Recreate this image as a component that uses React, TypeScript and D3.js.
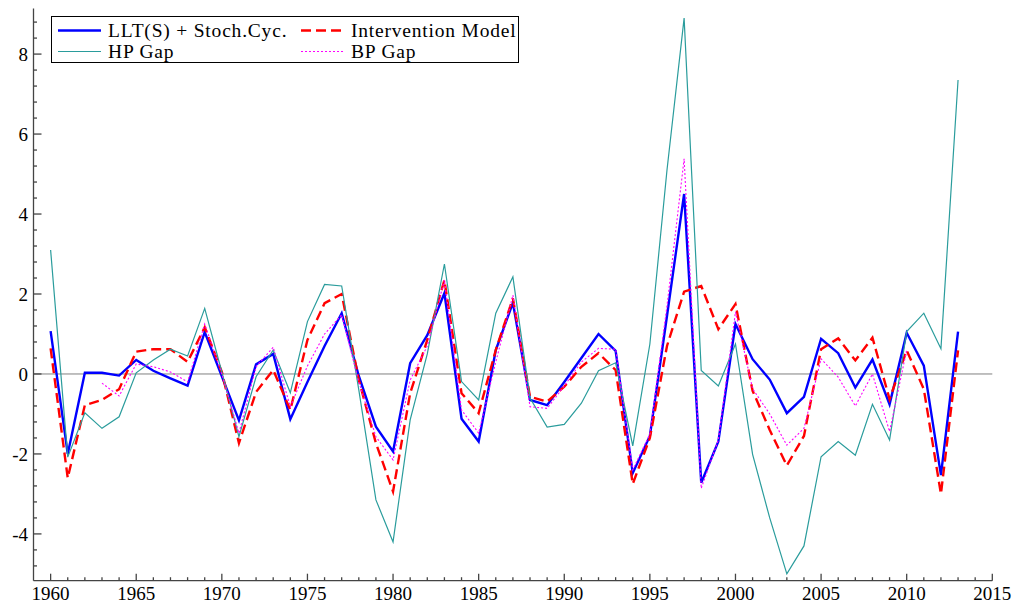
import * as d3 from "d3";
import React, { useRef, useEffect } from "react";

const years = d3.range(1960, 2014);

const lltCycle = [
  1.07, -2.0, 0.03, 0.03, -0.04, 0.35, 0.08, -0.11, -0.29, 1.05,
  -0.06, -1.16, 0.24, 0.5, -1.13, -0.2, 0.7, 1.52, -0.05, -1.32,
  -1.94, 0.27, 0.97, 2.02, -1.12, -1.69, 0.6, 1.78, -0.65, -0.78,
  -0.2, 0.4, 1.0, 0.58, -2.48, -1.55, 1.45, 4.5, -2.72, -1.69,
  1.25, 0.37, -0.14, -0.98, -0.57, 0.88, 0.52, -0.34, 0.36, -0.76,
  1.03, 0.21, -2.53, 1.06,
];

const intervention = [
  0.64, -2.6, -0.78, -0.65, -0.38, 0.56, 0.62, 0.62, 0.3, 1.17,
  0.05, -1.73, -0.45, 0.1, -0.9, 0.85, 1.77, 2.0, -0.15, -1.73,
  -2.94, -0.48, 0.85, 2.35, -0.48, -0.98, 0.6, 1.89, -0.57, -0.69,
  -0.32, 0.18, 0.52, 0.1, -2.75, -1.6, 0.7, 2.06, 2.2, 1.12,
  1.75, -0.42, -1.4, -2.29, -1.55, 0.62, 0.89, 0.34, 0.91, -0.63,
  0.59, -0.38, -3.0, 0.59,
];

const hpGap = [
  3.1, -2.08, -0.97, -1.36, -1.07, 0.03, 0.35, 0.62, 0.45, 1.64,
  0.05, -1.57, -0.07, 0.6, -0.47, 1.31, 2.24, 2.2, -0.4, -3.15,
  -4.2, -1.15, 0.5, 2.75, -0.19, -0.65, 1.52, 2.43, -0.6, -1.33,
  -1.26, -0.73, 0.08, 0.28, -1.8, 0.75, 5.1, 8.9, 0.09, -0.3,
  0.75, -2.01, -3.6, -5.0, -4.3, -2.07, -1.69, -2.03, -0.76, -1.65,
  1.06, 1.52, 0.63, 7.35,
];

// band-pass gap only covers 1963-2010
const bpYears = d3.range(1963, 2011);
const bpGap = [
  -0.23, -0.55, 0.25, 0.18, 0.05, -0.2, 1.25, 0.0, -1.48, 0.18,
  0.67, -0.82, 0.2, 1.0, 1.48, -0.2, -1.57, -2.15, -0.15, 0.7,
  2.35, -0.9, -1.48, 0.3, 1.97, -0.82, -0.86, -0.3, 0.3, 0.64,
  0.62, -2.4, -1.5, 1.7, 5.38, -2.86, -1.65, 1.55, -0.37, -1.0,
  -1.78, -1.36, 0.38, -0.08, -0.8, 0.0, -1.44, 0.6,
];

const xMajorTicks = d3.range(1960, 2016, 5);
const yMajorTicks = [-4, -2, 0, 2, 4, 6, 8];

const series = [
  { name: "LLT(S) + Stoch.Cyc.", x: years, y: lltCycle, color: "#0000ff", width: 2.4, dash: null },
  { name: "Intervention Model", x: years, y: intervention, color: "#ff0000", width: 2.4, dash: "10,5" },
  { name: "HP Gap", x: years, y: hpGap, color: "#2a9c9c", width: 1.2, dash: null },
  { name: "BP Gap", x: bpYears, y: bpGap, color: "#ff00ff", width: 1.1, dash: "2,2" },
];

const width = 1014;
const height = 606;
const font = "'Liberation Serif', 'Times New Roman', serif";
const axisColor = "#444";

function GapChart() {
  const ref = useRef(null);

  useEffect(() => {
    const svg = d3.select(ref.current);
    svg.selectAll("*").remove();

    const xScale = d3.scaleLinear().domain([1959, 2015]).range([33.5, 992.3]);
    const yScale = d3.scaleLinear().domain([-5.17, 9.14]).range([580.7, 8.5]);
    const [x0, x1] = xScale.range();
    const [yb, yt] = yScale.range();

    // zero reference line
    svg
      .append("line")
      .attr("x1", x0)
      .attr("x2", x1)
      .attr("y1", yScale(0))
      .attr("y2", yScale(0))
      .attr("stroke", "#808080")
      .attr("stroke-width", 1);

    const line = d3
      .line()
      .x((d) => xScale(d[0]))
      .y((d) => yScale(d[1]));

    svg
      .selectAll(".series")
      .data(series)
      .join("path")
      .classed("series", true)
      .attr("d", (s) => line(s.x.map((yr, i) => [yr, s.y[i]])))
      .attr("fill", "none")
      .attr("stroke", (s) => s.color)
      .attr("stroke-width", (s) => s.width)
      .attr("stroke-dasharray", (s) => s.dash)
      .attr("stroke-linejoin", "miter");

    // axes, ticks point inward
    const axes = svg.append("g").attr("stroke", axisColor).attr("stroke-width", 1.3);
    axes.append("line").attr("x1", x0).attr("x2", x1).attr("y1", yb).attr("y2", yb);
    axes.append("line").attr("x1", x0).attr("x2", x0).attr("y1", yb).attr("y2", yt);

    const xMinor = d3.range(1960, 2016);
    axes
      .selectAll(".xtick")
      .data(xMinor)
      .join("line")
      .classed("xtick", true)
      .attr("x1", (d) => xScale(d))
      .attr("x2", (d) => xScale(d))
      .attr("y1", yb)
      .attr("y2", (d) => (d % 5 === 0 ? yb - 7 : yb - 3.5));

    const yMinor = d3
      .range(-13, 24)
      .map((k) => +(k * 0.4).toFixed(2))
      .filter((v) => v >= yScale.domain()[0] && v <= yScale.domain()[1]);
    axes
      .selectAll(".ytick")
      .data(yMinor)
      .join("line")
      .classed("ytick", true)
      .attr("x1", x0)
      .attr("x2", (d) => (yMajorTicks.includes(d) ? x0 + 8 : x0 + 3.5))
      .attr("y1", (d) => yScale(d))
      .attr("y2", (d) => yScale(d));

    svg
      .selectAll(".xlabel")
      .data(xMajorTicks)
      .join("text")
      .classed("xlabel", true)
      .attr("x", (d) => xScale(d))
      .attr("y", 600)
      .attr("text-anchor", "middle")
      .style("font-family", font)
      .style("font-size", "19px")
      .attr("fill", "#000")
      .text((d) => d);

    svg
      .selectAll(".ylabel")
      .data(yMajorTicks)
      .join("text")
      .classed("ylabel", true)
      .attr("x", 28)
      .attr("y", (d) => yScale(d))
      .attr("dy", "0.35em")
      .attr("text-anchor", "end")
      .style("font-family", font)
      .style("font-size", "19px")
      .attr("fill", "#000")
      .text((d) => d);

    // legend
    const legend = svg.append("g");
    legend
      .append("rect")
      .attr("x", 51.5)
      .attr("y", 16.5)
      .attr("width", 467)
      .attr("height", 46)
      .attr("fill", "#fff")
      .attr("stroke", "#000")
      .attr("stroke-width", 1);

    const slots = [
      { lx: 58, ty: 30.5 },
      { lx: 301, ty: 30.5 },
      { lx: 58, ty: 51.5 },
      { lx: 301, ty: 51.5 },
    ];
    const items = legend
      .selectAll(".item")
      .data(series)
      .join("g")
      .classed("item", true)
      .attr("transform", (d, i) => `translate(${slots[i].lx},${slots[i].ty})`);
    items
      .append("line")
      .attr("x1", 0)
      .attr("x2", 43)
      .attr("stroke", (s) => s.color)
      .attr("stroke-width", (s) => s.width)
      .attr("stroke-dasharray", (s) => s.dash);
    items
      .append("text")
      .attr("x", 50)
      .attr("y", 6)
      .style("font-family", font)
      .style("font-size", "19.5px")
      .style("letter-spacing", "0.8px")
      .attr("fill", "#000")
      .text((s) => s.name);
  }, []);

  return <svg ref={ref} width={width} height={height} style={{ display: "block" }}></svg>;
}

export default function App() {
  return (
    <div style={{ position: "absolute", left: 0, top: 0, background: "#fff" }}>
      <GapChart />
    </div>
  );
}
